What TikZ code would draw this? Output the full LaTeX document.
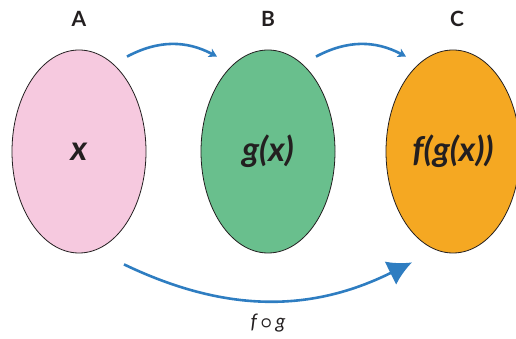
\documentclass[tikz,border=0pt]{standalone}
\usepackage{amsmath,amssymb}
\usepackage{fontspec}
\setmainfont{Lato}
\usepackage{tikz}
\usetikzlibrary{arrows.meta,calc,shapes.geometric}
\definecolor{setpink}{HTML}{F6C9DF}
\definecolor{setgreen}{HTML}{69BF8D}
\definecolor{setorange}{HTML}{F5A822}
\definecolor{maparrow}{HTML}{2E7DC1}
\definecolor{inkdark}{HTML}{231F20}
\tikzset{
  setbox/.style={draw=inkdark,ellipse,line width=0.8pt,fill=#1,minimum width=134pt,minimum height=203pt,inner sep=0pt,text=inkdark,font=\fontsize{34}{38}\selectfont\bfseries\itshape},
  setbox/.default={white},
  setlbl/.style={text=inkdark,font=\fontsize{21}{24}\selectfont\bfseries},
  maparr/.style={maparrow,line width=2.6pt,-{Stealth[length=8pt,width=9pt,inset=2pt]}},
  bigarr/.style={maparrow,line width=2.6pt,-{Latex[length=24pt,width=26pt]}},
}
\begin{document}
\begin{tikzpicture}[x=1pt,y=1pt]
 \useasboundingbox (0,0) rectangle (516,339);
 \node[setbox=setpink] (A) at (79,187.5) {x};
 \node[setbox=setgreen] (B) at (268,187.5) {g(x)};
 \node[setbox=setorange] (C) at (453,187.5) {f(g(x))};
 \node[setlbl] (la) at (79,320) {A};
 \node[setlbl] (lb) at (268,320) {B};
 \node[setlbl] (lc) at (457,320) {C};
 % arrows between the sets
 \coordinate (ab0) at ([xshift=48pt,yshift=-7pt]A.north);
 \coordinate (ab1) at ([xshift=-51pt,yshift=-7pt]B.north);
 \coordinate (bc0) at ([xshift=48pt,yshift=-7pt]B.north);
 \coordinate (bc1) at ([xshift=-47pt,yshift=-7pt]C.north);
 \coordinate (ac0) at ([xshift=45pt,yshift=-11pt]A.south);
 \coordinate (ac1) at ([xshift=-41pt,yshift=-9pt]C.south);
 \draw[maparr] (ab0) to[bend left=28] (ab1);
 \draw[maparr] (bc0) to[bend left=28] (bc1);
 \draw[bigarr] (ac0) to[bend right=26] (ac1);
 \node[text=inkdark,font=\fontsize{20}{22}\selectfont\itshape] (fg) at (268,16) {f\,$\boldsymbol{\circ}$\,g};
\end{tikzpicture}
\end{document}
